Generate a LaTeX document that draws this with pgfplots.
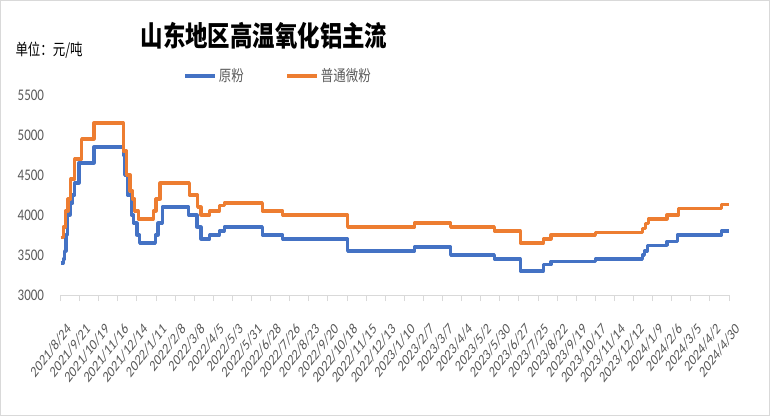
\documentclass[border=0pt]{standalone}
\usepackage{pgfplots}
\pgfplotsset{compat=1.18}
\usepackage{fontspec}
\setmainfont{Carlito}
\newfontfamily\cjk{Noto Sans CJK SC}
\definecolor{serA}{HTML}{4472C4}
\definecolor{serB}{HTML}{ED7D31}
\definecolor{txtgray}{HTML}{595959}
\definecolor{axgray}{HTML}{D9D9D9}

\begin{document}
\begin{tikzpicture}[x=1bp,y=1bp]
% outer frame of the chart area
\draw[axgray, line width=1.5bp] (0.75,0.75) rectangle (769.25,415.25);
\path (0,0) (770,416);

% title and unit
\node[anchor=center, yscale=1.25, transform shape] at (264,380)
  {\cjk\bfseries\fontsize{22.5}{24}\selectfont 山东地区高温氧化铝主流};
\node[anchor=west, yscale=1.28, transform shape] at (12,366)
  {\cjk\fontsize{12.5}{14}\selectfont 单位：元/吨};

\begin{axis}[
  at={(60.5bp,121bp)}, anchor=south west,
  scale only axis, width=668.5bp, height=200bp,
  xmin=0, xmax=980, ymin=3000, ymax=5500,
  axis x line*=bottom, axis y line*=left,
  x axis line style={axgray, line width=1bp},
  y axis line style={draw=none},
  ytick={3000,3500,...,5500},
  ytick style={draw=none},
  yticklabel style={text=txtgray, font=\fontsize{13}{13}\selectfont, anchor=east, xshift=-7bp, yscale=1.25},
  xtick={0,28,...,980},
  tick align=outside,
  xtick style={axgray, line width=1bp},
  major tick length=6bp,
  xticklabels={2021/8/24,2021/9/21,2021/10/19,2021/11/16,2021/12/14,2022/1/11,2022/2/8,2022/3/8,2022/4/5,2022/5/3,2022/5/31,2022/6/28,2022/7/26,2022/8/23,2022/9/20,2022/10/18,2022/11/15,2022/12/13,2023/1/10,2023/2/7,2023/3/7,2023/4/4,2023/5/2,2023/5/30,2023/6/27,2023/7/25,2023/8/22,2023/9/19,2023/10/17,2023/11/14,2023/12/12,2024/1/9,2024/2/6,2024/3/5,2024/4/2,2024/4/30},
  xticklabel style={text=txtgray, font=\fontsize{12}{12}\selectfont, xshift=11bp, yshift=-22bp, yscale=1.32, rotate=45, anchor=east},
  /pgf/number format/1000 sep={},
  /pgf/number format/assume math mode=true,
  clip=false,
  legend columns=2,
  legend style={at={(0.1795,1.095)}, anchor=west, draw=none, fill=none,
    font=\cjk\fontsize{12.5}{13}\selectfont, text=txtgray,
    /tikz/every even column/.append style={column sep=40bp},
    nodes={inner sep=2bp, yscale=1.25}},
  legend image code/.code={\draw[#1, line width=3.2bp] (0bp,0bp) -- (30bp,0bp);},
]
% 原粉
\addplot[const plot, serA, line width=3.2bp, line join=round] coordinates {
(0,3400)(4,3450)(6,3550)(8,3750)(10,4000)(14,4150)(18,4250)(21,4400)(27,4650)(49,4850)
(92,4750)(94,4500)(98,4250)(104,4000)(107,3900)(112,3750)(116,3650)(139,3750)(143,3900)(149,4100)
(188,4000)(200,3850)(206,3700)(219,3750)(233,3800)(240,3850)(296,3750)(326,3700)(421,3550)(519,3600)
(572,3500)(636,3450)(674,3300)(708,3380)(719,3420)(784,3450)(853,3500)(856,3550)(860,3620)(889,3670)
(904,3750)(969,3800)(980,3800)};
\addlegendentry{原粉}
% 普通微粉
\addplot[const plot, serB, line width=3.2bp, line join=round] coordinates {
(0,3720)(4,3850)(7,4050)(11,4200)(15,4450)(21,4700)(31,4950)(49,5150)
(92,4800)(97,4500)(102,4300)(106,4200)(109,4050)(114,3950)(136,4050)(140,4200)(146,4400)
(189,4250)(201,4100)(206,4000)(219,4050)(233,4120)(240,4150)(296,4050)(326,4000)(421,3850)(519,3900)
(572,3850)(636,3800)(674,3650)(708,3700)(719,3750)(784,3780)(853,3830)(857,3890)(862,3950)(889,4000)
(906,4080)(969,4130)(980,4130)};
\addlegendentry{普通微粉}
\end{axis}
\end{tikzpicture}
\end{document}
